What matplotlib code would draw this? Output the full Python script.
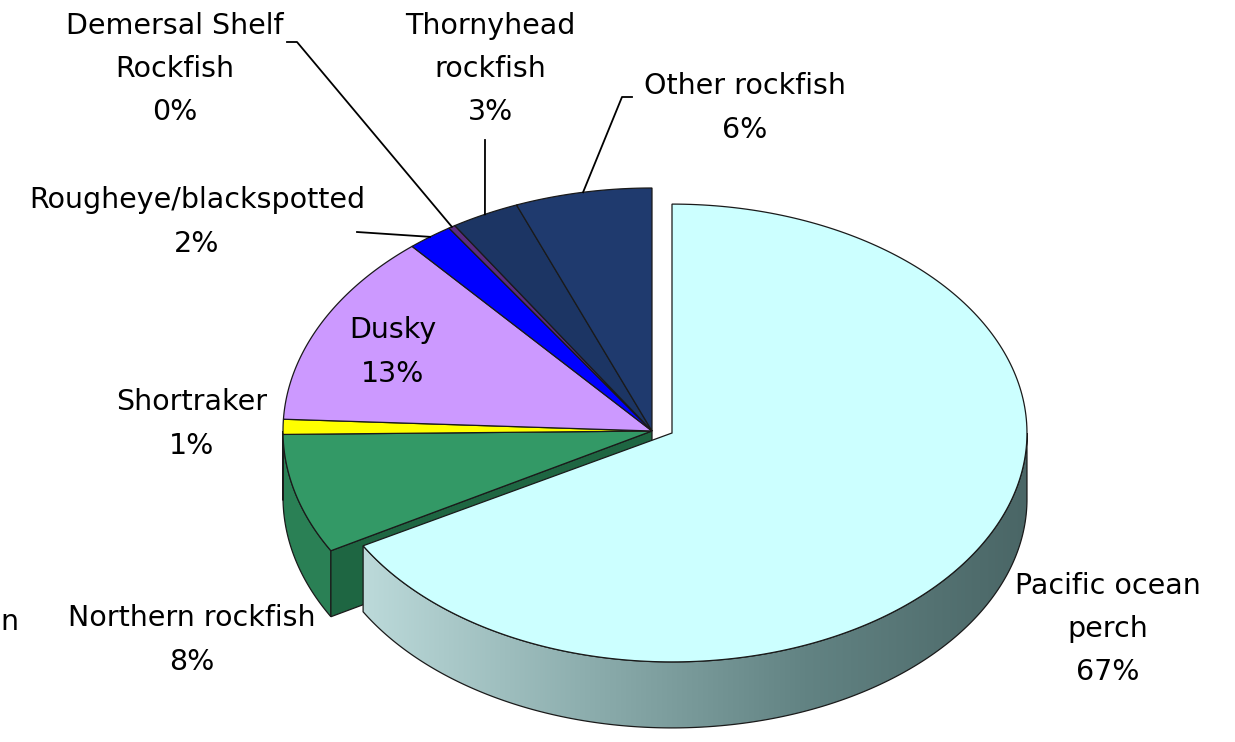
import numpy as np
import matplotlib.pyplot as plt
from matplotlib.patches import Polygon
from matplotlib.colors import LinearSegmentedColormap

# Rockfish catch shares, clockwise from 12 o'clock
species = ['Pacific ocean\nperch', 'Northern rockfish', 'Shortraker', 'Dusky',
           'Rougheye/blackspotted', 'Demersal Shelf\nRockfish',
           'Thornyhead\nrockfish', 'Other rockfish']
share = [67, 8, 1, 13, 2, 0.3, 3, 6]

top_colors = ['#CCFFFF', '#339966', '#FFFF00', '#CC99FF',
              '#0000FF', '#5B2C83', '#1C3564', '#1F3A6E']
side_colors = ['#7A9C9C', '#2A8055', '#B8B800', '#9A6FC8',
               '#0000B0', '#3F1F5C', '#132647', '#15294F']
wall_colors = ['#C8E6E6', '#1E6642', '#9A9A00', '#7F58A8',
               '#000090', '#2F1646', '#0E1C36', '#0F1F3C']
explode = [True, False, False, False, False, False, False, False]

# label block centres and leader line anchors (pixels)
label_xy = [(1108, 629), (192, 640), (192, 424), (393, 352),
            (197, 222), (175, 69), (490, 69), (745, 108)]
leader_start = [None, None, None, None,
                [(357, 232)], [(287, 42), (297, 42)],
                [(485, 140)], [(632, 97), (622, 97)]]

W, H = 1235, 742
center = np.array([652.0, 431.0])
radii = np.array([369.0, 243.0])
depth = 66
shift = np.array([20.0, 2.0])
shrink = np.array([0.962, 0.942])

fig = plt.figure(figsize=(W / 100, H / 100), dpi=100)
ax = fig.add_axes([0, 0, 1, 1])
ax.set_xlim(0, W)
ax.set_ylim(H, 0)
ax.axis('off')

edge = '#1A1A1A'


def arc(c, r, a0, a1, n=240):
    t = np.radians(np.linspace(a0, a1, n))
    return np.column_stack([c[0] + r[0] * np.cos(t), c[1] - r[1] * np.sin(t)])


total = sum(share)
spans = [v / total * 360 for v in share]
bounds = []
start = 90.0
for s in spans:
    bounds.append((start - s, start))
    start -= s


def geom(i):
    if explode[i]:
        return center + shift, radii * shrink
    return center, radii


def draw_slice(i, z):
    a_lo, a_hi = bounds[i]
    c, r = geom(i)
    down = np.array([0, depth])
    # outer rim, front half only
    lo, hi = max(a_lo, -180), min(a_hi, 0)
    if hi > lo:
        rim = arc(c, r, lo, hi)
        poly = np.vstack([rim, (rim + down)[::-1]])
        if explode[i]:
            ax.add_patch(Polygon(poly, closed=True, fc='none', ec=edge,
                                 lw=0.9, zorder=z + 0.2))
            cmap = LinearSegmentedColormap.from_list(
                'rim', ['#BCDADA', '#8DAEAE', '#628383', '#4A6666'])
            x0, x1 = poly[:, 0].min(), poly[:, 0].max()
            y0, y1 = poly[:, 1].min(), poly[:, 1].max()
            im = ax.imshow(np.linspace(0, 1, 256)[None, :], cmap=cmap,
                           extent=(x0, x1, y1, y0), aspect='auto',
                           zorder=z + 0.1, interpolation='bilinear')
            im.set_clip_path(Polygon(poly, closed=True, transform=ax.transData))
        else:
            ax.add_patch(Polygon(poly, closed=True, fc=side_colors[i], ec=edge,
                                 lw=0.9, zorder=z + 0.1))
    # cut faces next to a gap
    for a, sign in ((a_lo, 1), (a_hi, -1)):
        j = (i + (1 if sign == 1 else -1)) % len(share)
        if not (explode[i] or explode[j]):
            continue
        t = np.radians(a)
        normal_y = -np.cos(t) * sign
        if normal_y >= -1e-6:
            continue
        p_out = c + r * np.array([np.cos(t), -np.sin(t)])
        poly = np.array([c, p_out, p_out + down, c + down])
        ax.add_patch(Polygon(poly, closed=True, fc=wall_colors[i], ec=edge,
                             lw=0.9, zorder=z + 0.15))
    # top face
    face = np.vstack([c, arc(c, r, a_lo, a_hi)])
    ax.add_patch(Polygon(face, closed=True, fc=top_colors[i], ec=edge,
                         lw=0.9, zorder=z + 0.3))


for i in range(len(share)):
    draw_slice(i, 4 if explode[i] else 1)

ax.set_xlim(0, W)
ax.set_ylim(H, 0)

# labels and leader lines
for i, name in enumerate(species):
    pct = share[i] / total * 100
    ax.text(label_xy[i][0], label_xy[i][1], f'{name}\n{pct:.0f}%',
            ha='center', va='center', fontsize=20.5, linespacing=1.7,
            color='black', zorder=10)
    if leader_start[i] is not None:
        a_lo, a_hi = bounds[i]
        t = np.radians((a_lo + a_hi) / 2)
        c, r = geom(i)
        tip = c + r * np.array([np.cos(t), -np.sin(t)])
        pts = np.array(leader_start[i] + [tuple(tip)])
        ax.plot(pts[:, 0], pts[:, 1], color='black', lw=1.3, zorder=9)

ax.text(0, 622, 'n', ha='left', va='center', fontsize=20.5, color='black')

fig.savefig('out.png', dpi=100)
